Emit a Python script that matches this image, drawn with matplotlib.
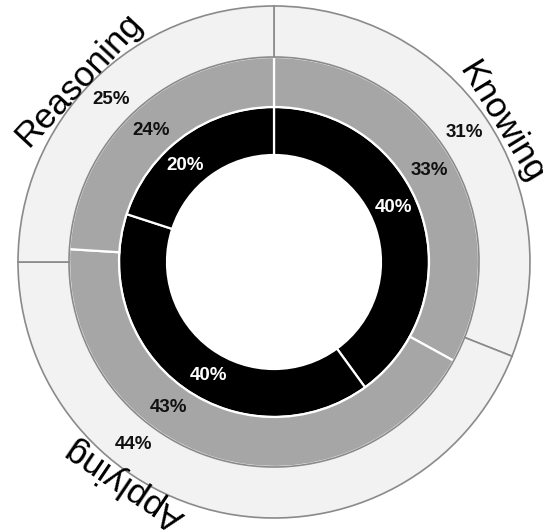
import numpy as np
import matplotlib
matplotlib.use('Agg')
import matplotlib.pyplot as plt

plt.rcParams['font.family'] = ['Liberation Sans', 'DejaVu Sans']

# cognitive domains, clockwise from 12 o'clock
domains = ['Knowing', 'Applying', 'Reasoning']
outer_pct = [31, 44, 25]
middle_pct = [33, 43, 24]
inner_pct = [40, 40, 20]

# ring geometry in pixels (axes units == pixels)
W, H = 543, 531
cx, cy = 274, 262
r_outer, r_middle, r_inner, r_hole = 256, 205, 155, 107

# angular nudges (degrees) for the percentage labels
inner_shift = [6.5, 6.0, 6.5]
middle_shift = [0, -19.6, 0]
outer_shift = [0, -26.7, 0]
name_angles = [31.5, -124, 137]

fig = plt.figure(figsize=(W / 100, H / 100), dpi=100)
ax = fig.add_axes([0, 0, 1, 1])

ax.pie(inner_pct, radius=r_inner, startangle=90, counterclock=False,
       colors=['black'] * 3,
       wedgeprops=dict(width=r_inner - r_hole, edgecolor='white', linewidth=1.6))
ax.pie(middle_pct, radius=r_middle, startangle=90, counterclock=False,
       colors=['#a6a6a6'] * 3,
       wedgeprops=dict(width=r_middle - r_inner, edgecolor='white', linewidth=1.6))
ax.pie(outer_pct, radius=r_outer, startangle=90, counterclock=False,
       colors=['#f2f2f2'] * 3,
       wedgeprops=dict(width=r_outer - r_middle, edgecolor='#8a8a8a', linewidth=1.2))


def mid_angles(vals):
    v = np.array(vals, dtype=float)
    edges = 90 - 360 * np.concatenate([[0], np.cumsum(v)]) / v.sum()
    return (edges[:-1] + edges[1:]) / 2


def put_labels(vals, r, shift, color):
    for v, a, s in zip(vals, mid_angles(vals), shift):
        t = np.deg2rad(a + s)
        ax.text(r * np.cos(t), r * np.sin(t), f'{v}%', ha='center', va='center',
                fontsize=13.5, fontweight='bold', color=color)


put_labels(inner_pct, (r_inner + r_hole) / 2, inner_shift, 'white')
put_labels(middle_pct, (r_middle + r_inner) / 2, middle_shift, '#111111')
put_labels(outer_pct, (r_outer + r_middle) / 2, outer_shift, '#111111')

# domain names run clockwise around the outside
for name, a in zip(domains, name_angles):
    t = np.deg2rad(a)
    rr = r_outer + 11
    ax.text(rr * np.cos(t), rr * np.sin(t), name, ha='center', va='center',
            rotation=a - 90, rotation_mode='anchor', fontsize=25.5, color='black')

ax.set_xlim(-cx, W - cx)
ax.set_ylim(-(H - cy), cy)
ax.set_aspect('equal')
ax.axis('off')

fig.savefig('out.png', dpi=100)
